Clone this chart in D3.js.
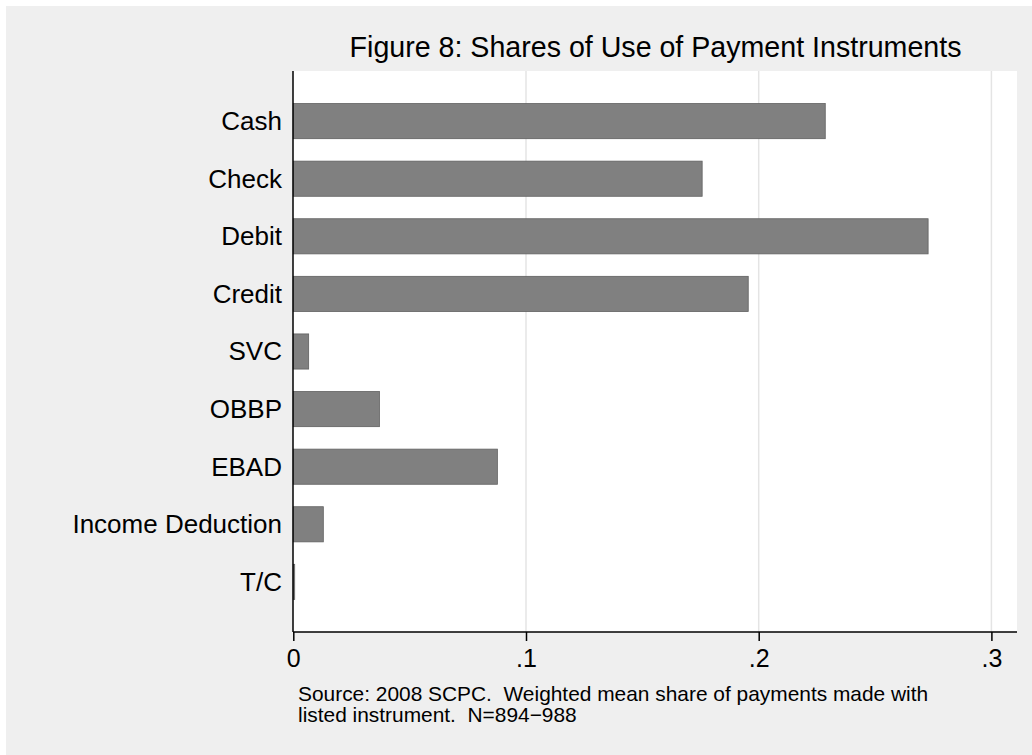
<!DOCTYPE html>
<html>
<head>
<meta charset="utf-8">
<script src="https://cdn.jsdelivr.net/npm/d3@7"></script>
<style>
  html, body { margin: 0; padding: 0; background: #ffffff; }
  svg { display: block; font-family: "Liberation Sans", Arial, Helvetica, sans-serif; }
  .pre { white-space: pre; }
</style>
</head>
<body>
<svg id="chart" width="1032" height="755"></svg>
<script>
const categories = ["Cash", "Check", "Debit", "Credit", "SVC", "OBBP", "EBAD", "Income Deduction", "T/C"];
const shares = [0.2286, 0.1757, 0.2728, 0.1955, 0.0066, 0.0370, 0.0877, 0.0129, 0.0006];
const xTicks = [0, 0.1, 0.2, 0.3];
const xTickLabels = ["0", ".1", ".2", ".3"];
const titleText = "Figure 8: Shares of Use of Payment Instruments";
const noteLines = ["Source: 2008 SCPC.  Weighted mean share of payments made with",
                   "listed instrument.  N=894\u2212988"];

const svg = d3.select("#chart");
const W = 1032, H = 755;
const plot = { left: 293, right: 1017, top: 71, bottom: 632 };

// outer background
svg.append("rect").attr("x", 6).attr("y", 6).attr("width", W - 6).attr("height", H - 6).attr("fill", "#efefef");
// plot region
svg.append("rect").attr("x", plot.left).attr("y", plot.top)
  .attr("width", plot.right - plot.left).attr("height", plot.bottom - plot.top).attr("fill", "#ffffff");

const x = d3.scaleLinear().domain([0, 0.3]).range([293.3, 991.4]);
const y = d3.scaleBand().domain(categories).range([plot.top, plot.bottom])
  .paddingInner(0.39).paddingOuter(0.565);

// gridlines
svg.append("g").selectAll("line").data(xTicks.filter(d => d > 0)).join("line")
  .attr("x1", d => x(d)).attr("x2", d => x(d))
  .attr("y1", plot.top).attr("y2", plot.bottom)
  .attr("stroke", "#e4e4e4").attr("stroke-width", 1.5);

// bars
svg.append("g").selectAll("rect").data(categories).join("rect")
  .attr("x", x(0))
  .attr("y", d => y(d))
  .attr("width", (d, i) => Math.max(0.8, x(shares[i]) - x(0)))
  .attr("height", y.bandwidth())
  .attr("fill", "#808080")
  .attr("stroke", "#606060")
  .attr("stroke-width", 0.8);

// x axis
const xAxis = d3.axisBottom(x).tickValues(xTicks).tickFormat((d, i) => xTickLabels[i])
  .tickSize(9).tickSizeOuter(0).tickPadding(8);
const gx = svg.append("g").attr("transform", `translate(0,${plot.bottom})`).call(xAxis);
gx.select(".domain").remove();
gx.append("line").attr("x1", plot.left).attr("x2", plot.right).attr("y1", 0).attr("y2", 0)
  .attr("stroke", "#000").attr("stroke-width", 1.5);
gx.selectAll(".tick line").attr("stroke", "#000").attr("stroke-width", 1.5);
gx.selectAll(".tick text").attr("fill", "#000").attr("font-size", 25)
  .attr("font-family", "Liberation Sans, Arial, sans-serif");

// y axis
const yAxis = d3.axisLeft(y).tickSize(0).tickPadding(11);
const gy = svg.append("g").attr("transform", `translate(${plot.left},0)`).call(yAxis);
gy.select(".domain").remove();
gy.append("line").attr("x1", 0).attr("x2", 0).attr("y1", plot.top).attr("y2", plot.bottom)
  .attr("stroke", "#000").attr("stroke-width", 1.5);
gy.selectAll(".tick text").attr("fill", "#000").attr("font-size", 26)
  .attr("font-family", "Liberation Sans, Arial, sans-serif").attr("dy", "0.34em");

// title
svg.append("text").attr("x", (plot.left + plot.right) / 2 + 0.5).attr("y", 57)
  .attr("text-anchor", "middle").attr("font-size", 28.6).attr("fill", "#000").text(titleText);

// note
svg.append("g").selectAll("text").data(noteLines).join("text")
  .attr("class", "pre")
  .attr("x", 298).attr("y", (d, i) => 701 + i * 21)
  .attr("font-size", 20.9).attr("fill", "#000").text(d => d);
</script>
</body>
</html>
